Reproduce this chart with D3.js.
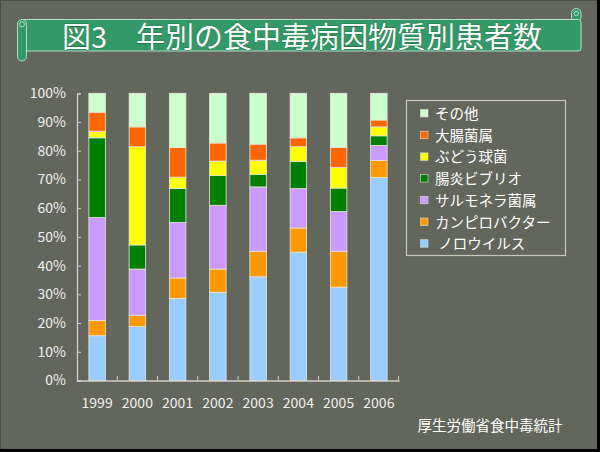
<!DOCTYPE html>
<html><head><meta charset="utf-8">
<script src="https://cdn.jsdelivr.net/npm/d3@7"></script>
<style>
html,body{margin:0;padding:0;background:#63665a;}
svg{display:block;}
text{font-family:"Noto Sans CJK JP","Liberation Sans",sans-serif;}
</style></head>
<body>
<svg id="chart" width="600" height="452"></svg>
<script>
const years = ["1999","2000","2001","2002","2003","2004","2005","2006"];
const seriesNames = ["ノロウイルス","カンピロバクター","サルモネラ菌属","腸炎ビブリオ","ぶどう球菌","大腸菌属","その他"];
const legendLabels = [" ノロウイルス","カンピロバクター","サルモネラ菌属","腸炎ビブリオ","ぶどう球菌","大腸菌属","その他"];
const seriesColors = ["#99ccff","#ff9900","#cc99ff","#008000","#ffff00","#ff6600","#ccffcc"];
const norovirus     = [15.6, 18.8, 28.6, 30.7, 36.1, 44.7, 32.5, 70.7];
const campylobacter = [ 5.3,  3.9,  7.1,  8.1,  8.9,  8.4, 12.5,  5.9];
const salmonella    = [35.8, 16.1, 19.3, 22.2, 22.4, 13.7, 13.8,  5.2];
const vibrio        = [27.8,  8.4, 11.9, 10.4,  4.4,  9.5,  8.2,  3.4];
const staph         = [ 2.3, 34.2,  3.9,  5.0,  4.9,  5.1,  7.2,  3.1];
const ecoli         = [ 6.6,  6.9, 10.3,  6.3,  5.6,  3.1,  7.0,  2.4];
const others        = [ 6.6, 11.7, 18.9, 17.3, 17.7, 15.5, 18.8,  9.3];
const yTicks = [0,10,20,30,40,50,60,70,80,90,100];
const titleText = "図3　年別の食中毒病因物質別患者数";
const sourceText = "厚生労働省食中毒統計";

const seriesValues = [norovirus, campylobacter, salmonella, vibrio, staph, ecoli, others];
const rows = years.map((y,i)=>{
  const r = {year:y};
  seriesNames.forEach((n,k)=>{ r[n] = seriesValues[k][i]; });
  return r;
});

const svg = d3.select("#chart");
// background frame
svg.append("rect").attr("x",0).attr("y",0).attr("width",600).attr("height",452).attr("fill","#63665a");
svg.append("rect").attr("x",0.5).attr("y",0.5).attr("width",597).attr("height",449)
  .attr("fill","none").attr("stroke","#4a4c44").attr("stroke-width",1);
svg.append("rect").attr("x",597).attr("y",0).attr("width",3).attr("height",452).attr("fill","#000");
svg.append("rect").attr("x",0).attr("y",449).attr("width",600).attr("height",3).attr("fill","#000");

// title scroll banner
const tg = svg.append("g");
const green = "#339966", edge = "#b5dcc4";
// right curl (top)
tg.append("rect").attr("x",571.5).attr("y",8.5).attr("width",9.5).attr("height",14).attr("rx",4.7)
  .attr("fill",green).attr("stroke",edge).attr("stroke-width",1);
// main band
tg.append("path").attr("d","M22,19.5 L578,19.5 Q581,19.5 581,22.5 L581,48 Q581,51 578,51 L22,51 Z")
  .attr("fill",green).attr("stroke",edge).attr("stroke-width",1);
tg.append("circle").attr("cx",576.3).attr("cy",13.5).attr("r",2.2).attr("fill","none").attr("stroke",edge).attr("stroke-width",1);
// left curl
tg.append("rect").attr("x",17.5).attr("y",19.5).attr("width",9).attr("height",41.5).attr("rx",4.5)
  .attr("fill",green).attr("stroke",edge).attr("stroke-width",1);
tg.append("circle").attr("cx",22).attr("cy",24.3).attr("r",2.6).attr("fill","none").attr("stroke",edge).attr("stroke-width",1);
tg.append("text").attr("x",302).attr("y",48).attr("text-anchor","middle")
  .attr("font-size",29).attr("fill","#ffffff")
  .attr("stroke","#1d5a3a").attr("stroke-width",0.6).attr("paint-order","stroke")
  .text(titleText);

// scales
const x = d3.scaleBand().domain(years).range([77,399]).paddingInner(0.59).paddingOuter(0.295);
const y = d3.scaleLinear().domain([0,100]).range([380.5,93.3]);

const axisColor = "#cfcfc8";
// y axis
const yAxis = svg.append("g").attr("transform","translate(77,0)")
  .call(d3.axisLeft(y).tickValues(yTicks).tickSize(-4).tickPadding(10).tickFormat(d=>d+"%"));
yAxis.select(".domain").attr("stroke",axisColor).attr("stroke-width",1.3);
yAxis.selectAll(".tick line").attr("stroke",axisColor);
yAxis.selectAll(".tick text").attr("fill","#f0f0f0").attr("font-size",14)
  .attr("font-family","Liberation Sans Narrow, Liberation Sans, sans-serif").attr("x",-11);

// x axis
const xAxis = svg.append("g").attr("transform","translate(0,380.5)")
  .call(d3.axisBottom(x).tickSize(0).tickPadding(18));
xAxis.select(".domain").attr("stroke",axisColor).attr("stroke-width",1.3);
xAxis.selectAll(".tick text").attr("fill","#f0f0f0").attr("font-size",14)
  .attr("font-family","Liberation Sans Narrow, Liberation Sans, sans-serif");
// band boundary ticks (upward)
const step = x.step();
svg.append("g").selectAll("line").data(years.slice(1).concat(["end"])).join("line")
  .attr("x1",(d,i)=> i < years.length-1 ? x(d) - x.paddingInner()*step/2 : 398.5)
  .attr("x2",(d,i)=> i < years.length-1 ? x(d) - x.paddingInner()*step/2 : 398.5)
  .attr("y1",380.5).attr("y2",376).attr("stroke",axisColor).attr("stroke-width",1);

// stacked bars
const stack = d3.stack().keys(seriesNames)(rows);
svg.append("g").selectAll("g").data(stack).join("g")
  .attr("fill",(d,i)=>seriesColors[i])
  .selectAll("rect").data(d=>d).join("rect")
  .attr("x",d=>x(d.data.year))
  .attr("width",x.bandwidth())
  .attr("y",d=>y(d[1]))
  .attr("height",d=>y(d[0])-y(d[1]))
  .attr("stroke","#e6e6dc").attr("stroke-width",0.8);

// legend
const lg = svg.append("g");
lg.append("rect").attr("x",406.5).attr("y",100.5).attr("width",159).attr("height",155)
  .attr("fill","none").attr("stroke","#c8c8c0").attr("stroke-width",1.2);
const order = d3.range(seriesNames.length).reverse();
const items = lg.selectAll("g.item").data(order).join("g").attr("class","item")
  .attr("transform",(d,i)=>`translate(0,${113.5 + i*21.7})`);
items.append("rect").attr("x",420.5).attr("y",-4).attr("width",7.5).attr("height",7.5)
  .attr("fill",d=>seriesColors[d]).attr("stroke","#ddd").attr("stroke-width",0.6);
items.append("text").attr("x",435).attr("y",5.5).attr("font-size",14.5).attr("fill","#ffffff")
  .style("white-space","pre").text(d=>legendLabels[d]);

// source
svg.append("text").attr("x",490).attr("y",431).attr("text-anchor","middle")
  .attr("font-size",14.5).attr("fill","#ffffff").text(sourceText);
</script>
</body></html>
